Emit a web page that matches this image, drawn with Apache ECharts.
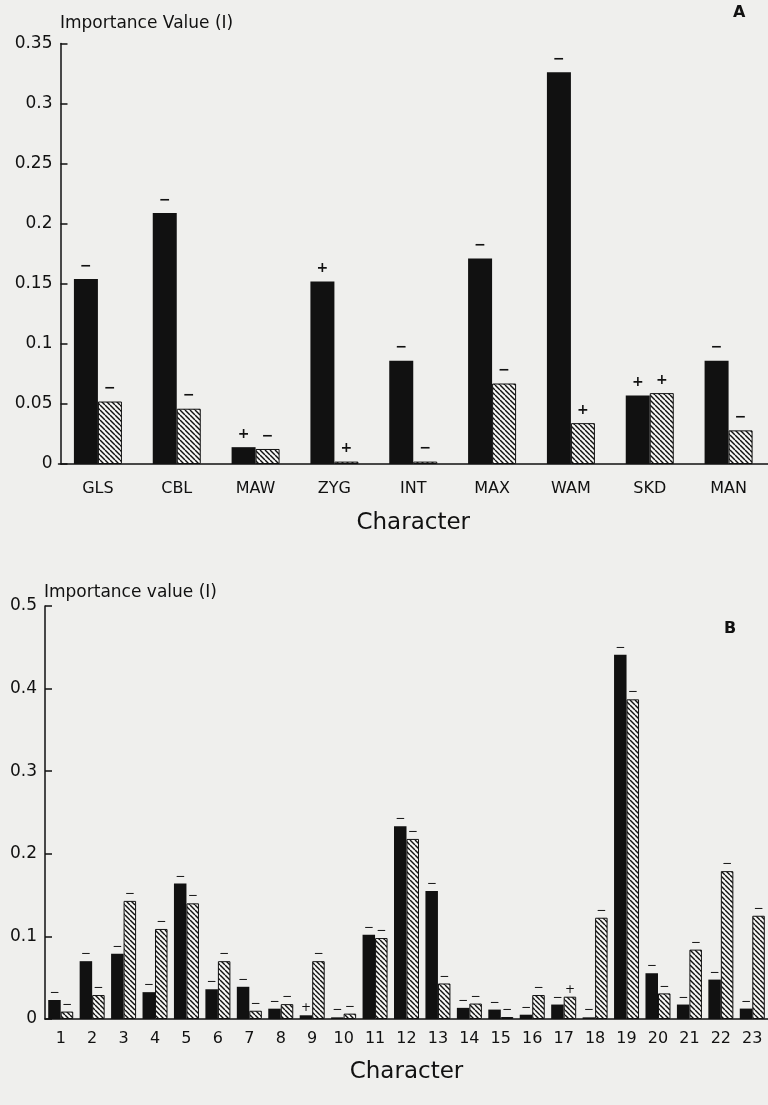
<!DOCTYPE html>
<html>
<head>
<meta charset="utf-8">
<script src="https://cdn.jsdelivr.net/npm/echarts@6/dist/echarts.min.js"></script>
<style>
html, body { margin: 0; padding: 0; background: #efefed; }
#chart { width: 768px; height: 1105px; }
</style>
</head>
<body>
<div id="chart"></div>
<script>
// panel A
var charsA = ['GLS', 'CBL', 'MAW', 'ZYG', 'INT', 'MAX', 'WAM', 'SKD', 'MAN'];
var solidA = [0.154, 0.209, 0.014, 0.152, 0.086, 0.171, 0.326, 0.057, 0.086];
var hatchA = [0.052, 0.046, 0.0125, 0.002, 0.002, 0.067, 0.034, 0.059, 0.028];
var signSolidA = ['−', '−', '+', '+', '−', '−', '−', '+', '−'];
var signHatchA = ['−', '−', '−', '+', '−', '−', '+', '+', '−'];

// panel B
var charsB = ['1', '2', '3', '4', '5', '6', '7', '8', '9', '10', '11', '12',
              '13', '14', '15', '16', '17', '18', '19', '20', '21', '22', '23'];
var solidB = [0.023, 0.070, 0.079, 0.0325, 0.164, 0.036, 0.039, 0.0125, 0.0045, 0.002, 0.102, 0.2335,
              0.155, 0.0135, 0.0114, 0.0052, 0.0175, 0.002, 0.441, 0.0554, 0.0175, 0.0477, 0.0126];
var hatchB = [0.009, 0.029, 0.143, 0.109, 0.140, 0.070, 0.010, 0.018, 0.070, 0.0065, 0.098, 0.218,
              0.043, 0.0187, 0.0024, 0.029, 0.027, 0.1226, 0.387, 0.031, 0.084, 0.179, 0.125];
var signSolidB = ['−', '−', '−', '−', '−', '−', '−', '−', '+', '−', '−', '−',
                  '−', '−', '−', '−', '−', '−', '−', '−', '−', '−', '−'];
var signHatchB = ['−', '−', '−', '−', '−', '−', '−', '−', '−', '−', '−', '−',
                  '−', '−', '−', '−', '+', '−', '−', '−', '−', '−', '−'];

var FONT = 'DejaVu Sans';
var INK = '#111';

// diagonal "\" hatch tile
function hatchTile() {
    var s = 5;
    var c = document.createElement('canvas');
    c.width = s; c.height = s;
    var g = c.getContext('2d');
    g.fillStyle = '#f7f7f5';
    g.fillRect(0, 0, s, s);
    g.strokeStyle = '#111';
    g.lineWidth = 1.4;
    [-s, 0, s].forEach(function (k) {
        g.beginPath();
        g.moveTo(0, k);
        g.lineTo(s, s + k);
        g.stroke();
    });
    return c;
}
var hatch = { image: hatchTile(), repeat: 'repeat' };

function signLabel(signs, size, weight, dist) {
    return {
        show: true,
        position: 'top',
        distance: dist,
        color: INK,
        fontFamily: FONT,
        fontSize: size,
        fontWeight: weight,
        formatter: function (p) { return signs[p.dataIndex]; }
    };
}

function valueAxis(idx, max, interval) {
    return {
        type: 'value', gridIndex: idx, min: 0, max: max, interval: interval,
        offset: idx === 0 ? -2 : 0,
        axisLine: { show: true, lineStyle: { color: INK, width: 1.5 } },
        axisTick: { show: true, inside: true, length: 7, lineStyle: { color: INK, width: 1.5 } },
        splitLine: { show: false },
        axisLabel: { color: INK, fontFamily: FONT, fontSize: 17, margin: 8 }
    };
}

function catAxis(idx, data, size, margin, gap) {
    return {
        type: 'category', gridIndex: idx, data: data,
        name: 'Character', nameLocation: 'middle', nameGap: gap,
        nameTextStyle: { color: INK, fontFamily: FONT, fontSize: 23 },
        axisLine: { show: true, lineStyle: { color: INK, width: 1.5 } },
        axisTick: { show: false },
        axisLabel: { color: INK, fontFamily: FONT, fontSize: size, margin: margin, interval: 0 }
    };
}

var option = {
    backgroundColor: '#efefed',
    animation: false,
    title: [
        { text: 'Importance Value (I)', left: 60, top: 15, padding: 0,
          textStyle: { color: INK, fontFamily: FONT, fontSize: 17, fontWeight: 'normal' } },
        { text: 'A', left: 733, top: 5, padding: 0,
          textStyle: { color: INK, fontFamily: FONT, fontSize: 16, fontWeight: 'bold' } },
        { text: 'Importance value (I)', left: 44, top: 584, padding: 0,
          textStyle: { color: INK, fontFamily: FONT, fontSize: 17, fontWeight: 'normal' } },
        { text: 'B', left: 724, top: 621, padding: 0,
          textStyle: { color: INK, fontFamily: FONT, fontSize: 16, fontWeight: 'bold' } }
    ],
    grid: [
        { left: 58.5, top: 43.5, width: 711, height: 420.5 },
        { left: 45, top: 606, width: 726, height: 413 }
    ],
    xAxis: [
        catAxis(0, charsA, 16, 17, 48),
        catAxis(1, charsB, 16, 12, 42)
    ],
    yAxis: [
        valueAxis(0, 0.35, 0.05),
        valueAxis(1, 0.5, 0.1)
    ],
    series: [
        { type: 'bar', xAxisIndex: 0, yAxisIndex: 0, data: solidA, barWidth: 24, barGap: '0%',
          itemStyle: { color: INK }, label: signLabel(signSolidA, 14, 'bold', 6) },
        { type: 'bar', xAxisIndex: 0, yAxisIndex: 0, data: hatchA, barWidth: 24, barGap: '0%',
          itemStyle: { color: hatch, borderColor: INK, borderWidth: 1 },
          label: signLabel(signHatchA, 14, 'bold', 6) },
        { type: 'bar', xAxisIndex: 1, yAxisIndex: 1, data: solidB, barWidth: 12.5, barGap: '0%',
          itemStyle: { color: INK }, label: signLabel(signSolidB, 12, 'normal', 1) },
        { type: 'bar', xAxisIndex: 1, yAxisIndex: 1, data: hatchB, barWidth: 12.5, barGap: '0%',
          itemStyle: { color: hatch, borderColor: INK, borderWidth: 1 },
          label: signLabel(signHatchB, 12, 'normal', 1) }
    ]
};

var myChart = echarts.init(document.getElementById('chart'));
myChart.setOption(option);
</script>
</body>
</html>
